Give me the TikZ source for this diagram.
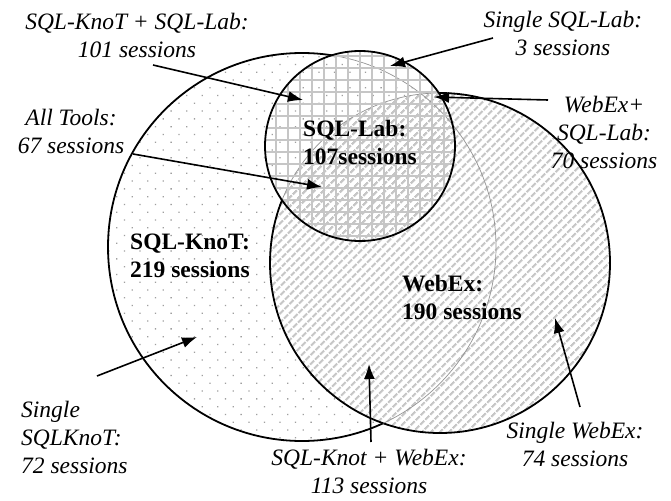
\documentclass[tikz,border=0pt]{standalone}
\usepackage{fontspec}
\setmainfont{Liberation Serif}
\usetikzlibrary{patterns.meta,arrows.meta}
\begin{document}
\begin{tikzpicture}[x=1pt,y=-1pt,
  lbl/.style={font=\fontsize{23.5}{28}\selectfont\itshape, align=center, inner sep=0pt},
  lbll/.style={font=\fontsize{23.5}{28}\selectfont\itshape, align=left, inner sep=0pt},
  ttl/.style={font=\fontsize{23.5}{28}\selectfont\bfseries, align=left, inner sep=0pt},
  ptr/.style={line width=1.6pt, -{Latex[length=15pt,width=11pt]}},
  rim/.style={line width=1.8pt, black},
  faint/.style={line width=0.7pt, gray!85},
  dotfill/.style={pattern={Dots[distance=11pt,angle=45,radius=0.9pt]}, pattern color=gray!75},
  hatchfill/.style={pattern={Lines[distance=6.5pt,angle=45,line width=2.4pt]}, pattern color=gray!45},
  gridfill/.style={pattern={Hatch[distance=12pt,angle=0,line width=1.6pt]}, pattern color=gray!45}
]
\useasboundingbox (0,0) rectangle (671,500);
\coordinate (K) at (302,247);
\coordinate (L) at (360,146);
\coordinate (W) at (440,263);
\def\rK{194pt}\def\rL{95pt}\def\rW{170pt}

% SQL-KnoT circle
\fill[white] (K) circle[radius=\rK];
\fill[dotfill] (K) circle[radius=\rK];
\draw[rim] (K) circle[radius=\rK];
% WebEx circle
\fill[white] (W) circle[radius=\rW];
\fill[hatchfill] (W) circle[radius=\rW];
\draw[rim] (W) circle[radius=\rW];
\begin{scope}
  \clip (W) circle[radius=\rW];
  \draw[faint] (K) circle[radius=\rK];
\end{scope}
% SQL-Lab circle
\begin{scope}
  \clip (L) circle[radius=\rL];
  \fill[white] (L) circle[radius=\rL];
  \begin{scope}
    \clip (K) circle[radius=\rK];
    \fill[dotfill] (L) circle[radius=\rL];
  \end{scope}
  \fill[white] (W) circle[radius=\rW];
  \fill[hatchfill] (W) circle[radius=\rW];
  \draw[faint] (K) circle[radius=\rK];
  \draw[faint] (W) circle[radius=\rW];
  \fill[gridfill] (L) circle[radius=\rL];
\end{scope}
\draw[rim] (L) circle[radius=\rL];

% set labels
\node[ttl] (lab) at (360,142) {SQL-Lab:\\107sessions};
\node[ttl, anchor=west] (knot) at (130,256) {SQL-KnoT:\\219 sessions};
\node[ttl, anchor=west] (webex) at (402,297) {WebEx:\\190 sessions};

% region labels
\node[lbl] (t1) at (137,35) {SQL-KnoT + SQL-Lab:\\101 sessions};
\node[lbl] (t2) at (563,33) {Single SQL-Lab:\\3 sessions};
\node[lbl] (t3) at (604,132) {WebEx+\\SQL-Lab:\\70 sessions};
\node[lbl] (t4) at (71,131) {All Tools:\\67 sessions};
\node[lbll, anchor=west] (t5) at (21,437) {Single\\SQLKnoT:\\72 sessions};
\node[lbl] (t6) at (369,471) {SQL-Knot + WebEx:\\113 sessions};
\node[lbl] (t7) at (575,444) {Single WebEx:\\74 sessions};

% arrows
\coordinate (a1s) at (153,65);  \coordinate (a1e) at (303,100);
\coordinate (a2s) at (133,154); \coordinate (a2e) at (322,187);
\coordinate (a3s) at (493,38);  \coordinate (a3e) at (390,66);
\coordinate (a4s) at (548,100); \coordinate (a4e) at (434,97);
\coordinate (a5s) at (97,376);  \coordinate (a5e) at (197,337);
\coordinate (a6s) at (371,442); \coordinate (a6e) at (369,364);
\coordinate (a7s) at (580,407); \coordinate (a7e) at (555,318);
\draw[ptr] (a1s) -- (a1e);
\draw[ptr] (a2s) -- (a2e);
\draw[ptr] (a3s) -- (a3e);
\draw[ptr] (a4s) -- (a4e);
\draw[ptr] (a5s) -- (a5e);
\draw[ptr] (a6s) -- (a6e);
\draw[ptr] (a7s) -- (a7e);
\end{tikzpicture}
\end{document}
